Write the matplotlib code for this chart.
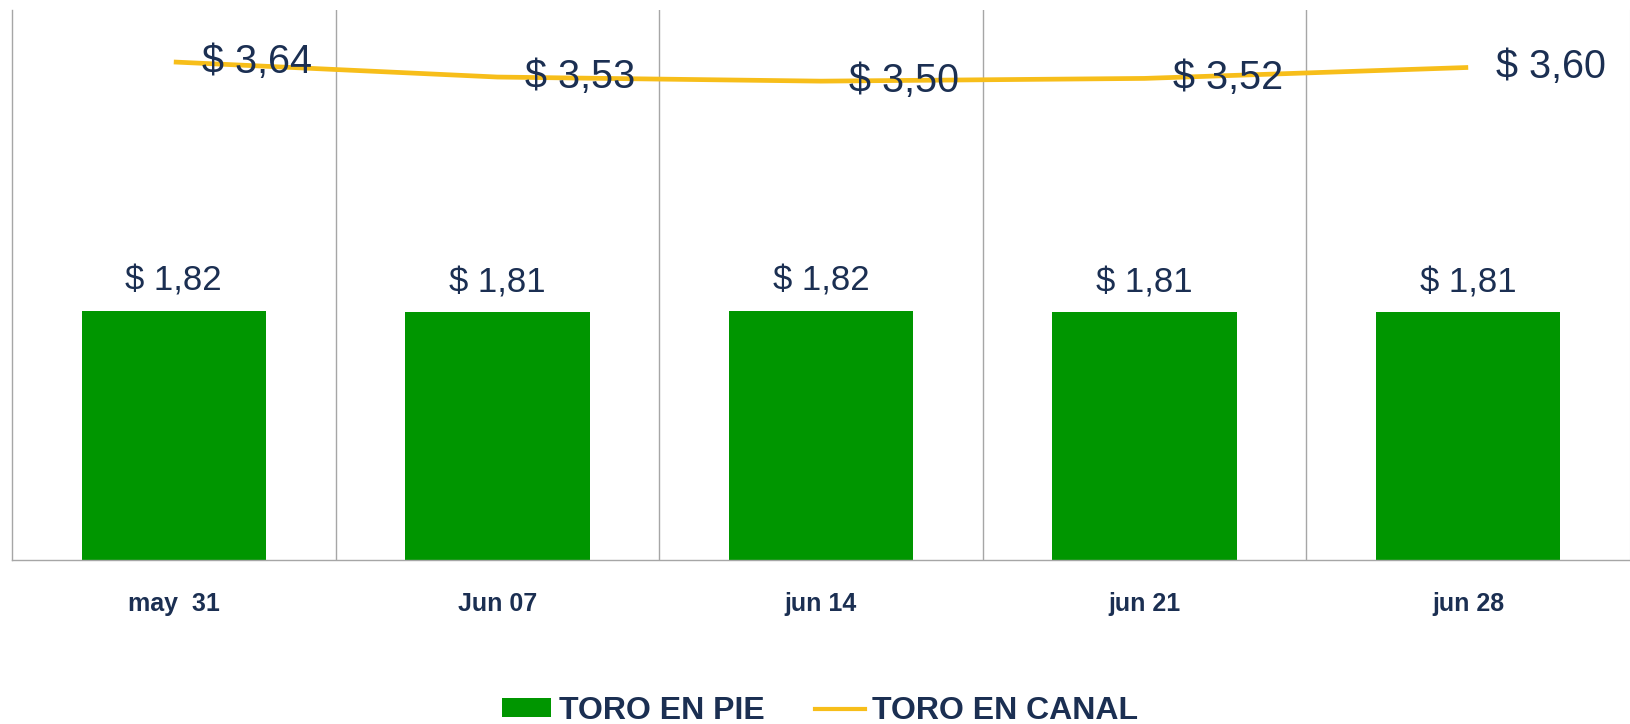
import matplotlib
matplotlib.use("Agg")
import matplotlib.pyplot as plt
from matplotlib.patches import Patch
from matplotlib.lines import Line2D
from matplotlib import font_manager

categories = ["may  31", "Jun 07", "jun 14", "jun 21", "jun 28"]
toro_en_pie = [1.82, 1.81, 1.82, 1.81, 1.81]
toro_en_canal = [3.64, 3.53, 3.50, 3.52, 3.60]
pie_labels = ["$ 1,82", "$ 1,81", "$ 1,82", "$ 1,81", "$ 1,81"]
canal_labels = ["$ 3,64", "$ 3,53", "$ 3,50", "$ 3,52", "$ 3,60"]

GREEN = "#009600"
GOLD = "#F7BE1A"
NAVY = "#1B2F52"
GRID = "#A6A6A6"

names = {f.name for f in font_manager.fontManager.ttflist}
base_font = "Liberation Sans" if "Liberation Sans" in names else "DejaVu Sans"
plt.rcParams["font.family"] = [base_font, "DejaVu Sans"]

W, H = 1631, 724
fig = plt.figure(figsize=(W / 100, H / 100), dpi=100)
ax = fig.add_axes([12 / W, 1 - 560 / H, 1618 / W, 550 / H])

x = list(range(len(categories)))
ax.bar(x, toro_en_pie, width=0.57, color=GREEN, zorder=2)
ax.plot(x, toro_en_canal, color=GOLD, lw=3.4, solid_capstyle="butt", zorder=3)

ax.set_xlim(-0.5, len(categories) - 0.5)
ax.set_ylim(0, 4.02)

for b in [i + 0.5 for i in range(len(categories) - 1)]:
    ax.axvline(b, color=GRID, lw=1.0, zorder=1)

ax.spines["top"].set_visible(False)
ax.spines["right"].set_color("#D9D9D9")
for s in ["left", "bottom"]:
    ax.spines[s].set_color(GRID)
    ax.spines[s].set_linewidth(1.0)

ax.set_yticks([])
ax.set_xticks(x)
ax.set_xticklabels(categories, fontsize=18, fontweight="bold", color=NAVY)
ax.tick_params(axis="x", length=0, pad=23)

for xi, v, lab in zip(x, toro_en_pie, pie_labels):
    ax.annotate(lab, (xi, v), xytext=(0, 13), textcoords="offset pixels",
                ha="center", va="bottom", fontsize=25, color=NAVY, zorder=4)

for xi, v, lab in zip(x, toro_en_canal, canal_labels):
    ax.annotate(lab, (xi, v), xytext=(28, 0), textcoords="offset pixels",
                ha="left", va="center", fontsize=28.5, color=NAVY, zorder=4)

handles = [Patch(facecolor=GREEN, edgecolor="none", label="TORO EN PIE"),
           Line2D([0], [0], color=GOLD, lw=3, label="TORO EN CANAL")]
fig.legend(handles=handles, loc="center", bbox_to_anchor=(820 / W, 1 - 711 / H),
           ncol=2, frameon=False,
           prop={"family": base_font, "weight": "bold", "size": 23},
           labelcolor=NAVY, handlelength=1.55, handleheight=0.53,
           handletextpad=0.23, columnspacing=1.6)

fig.savefig("out.png", dpi=100, facecolor="white")
